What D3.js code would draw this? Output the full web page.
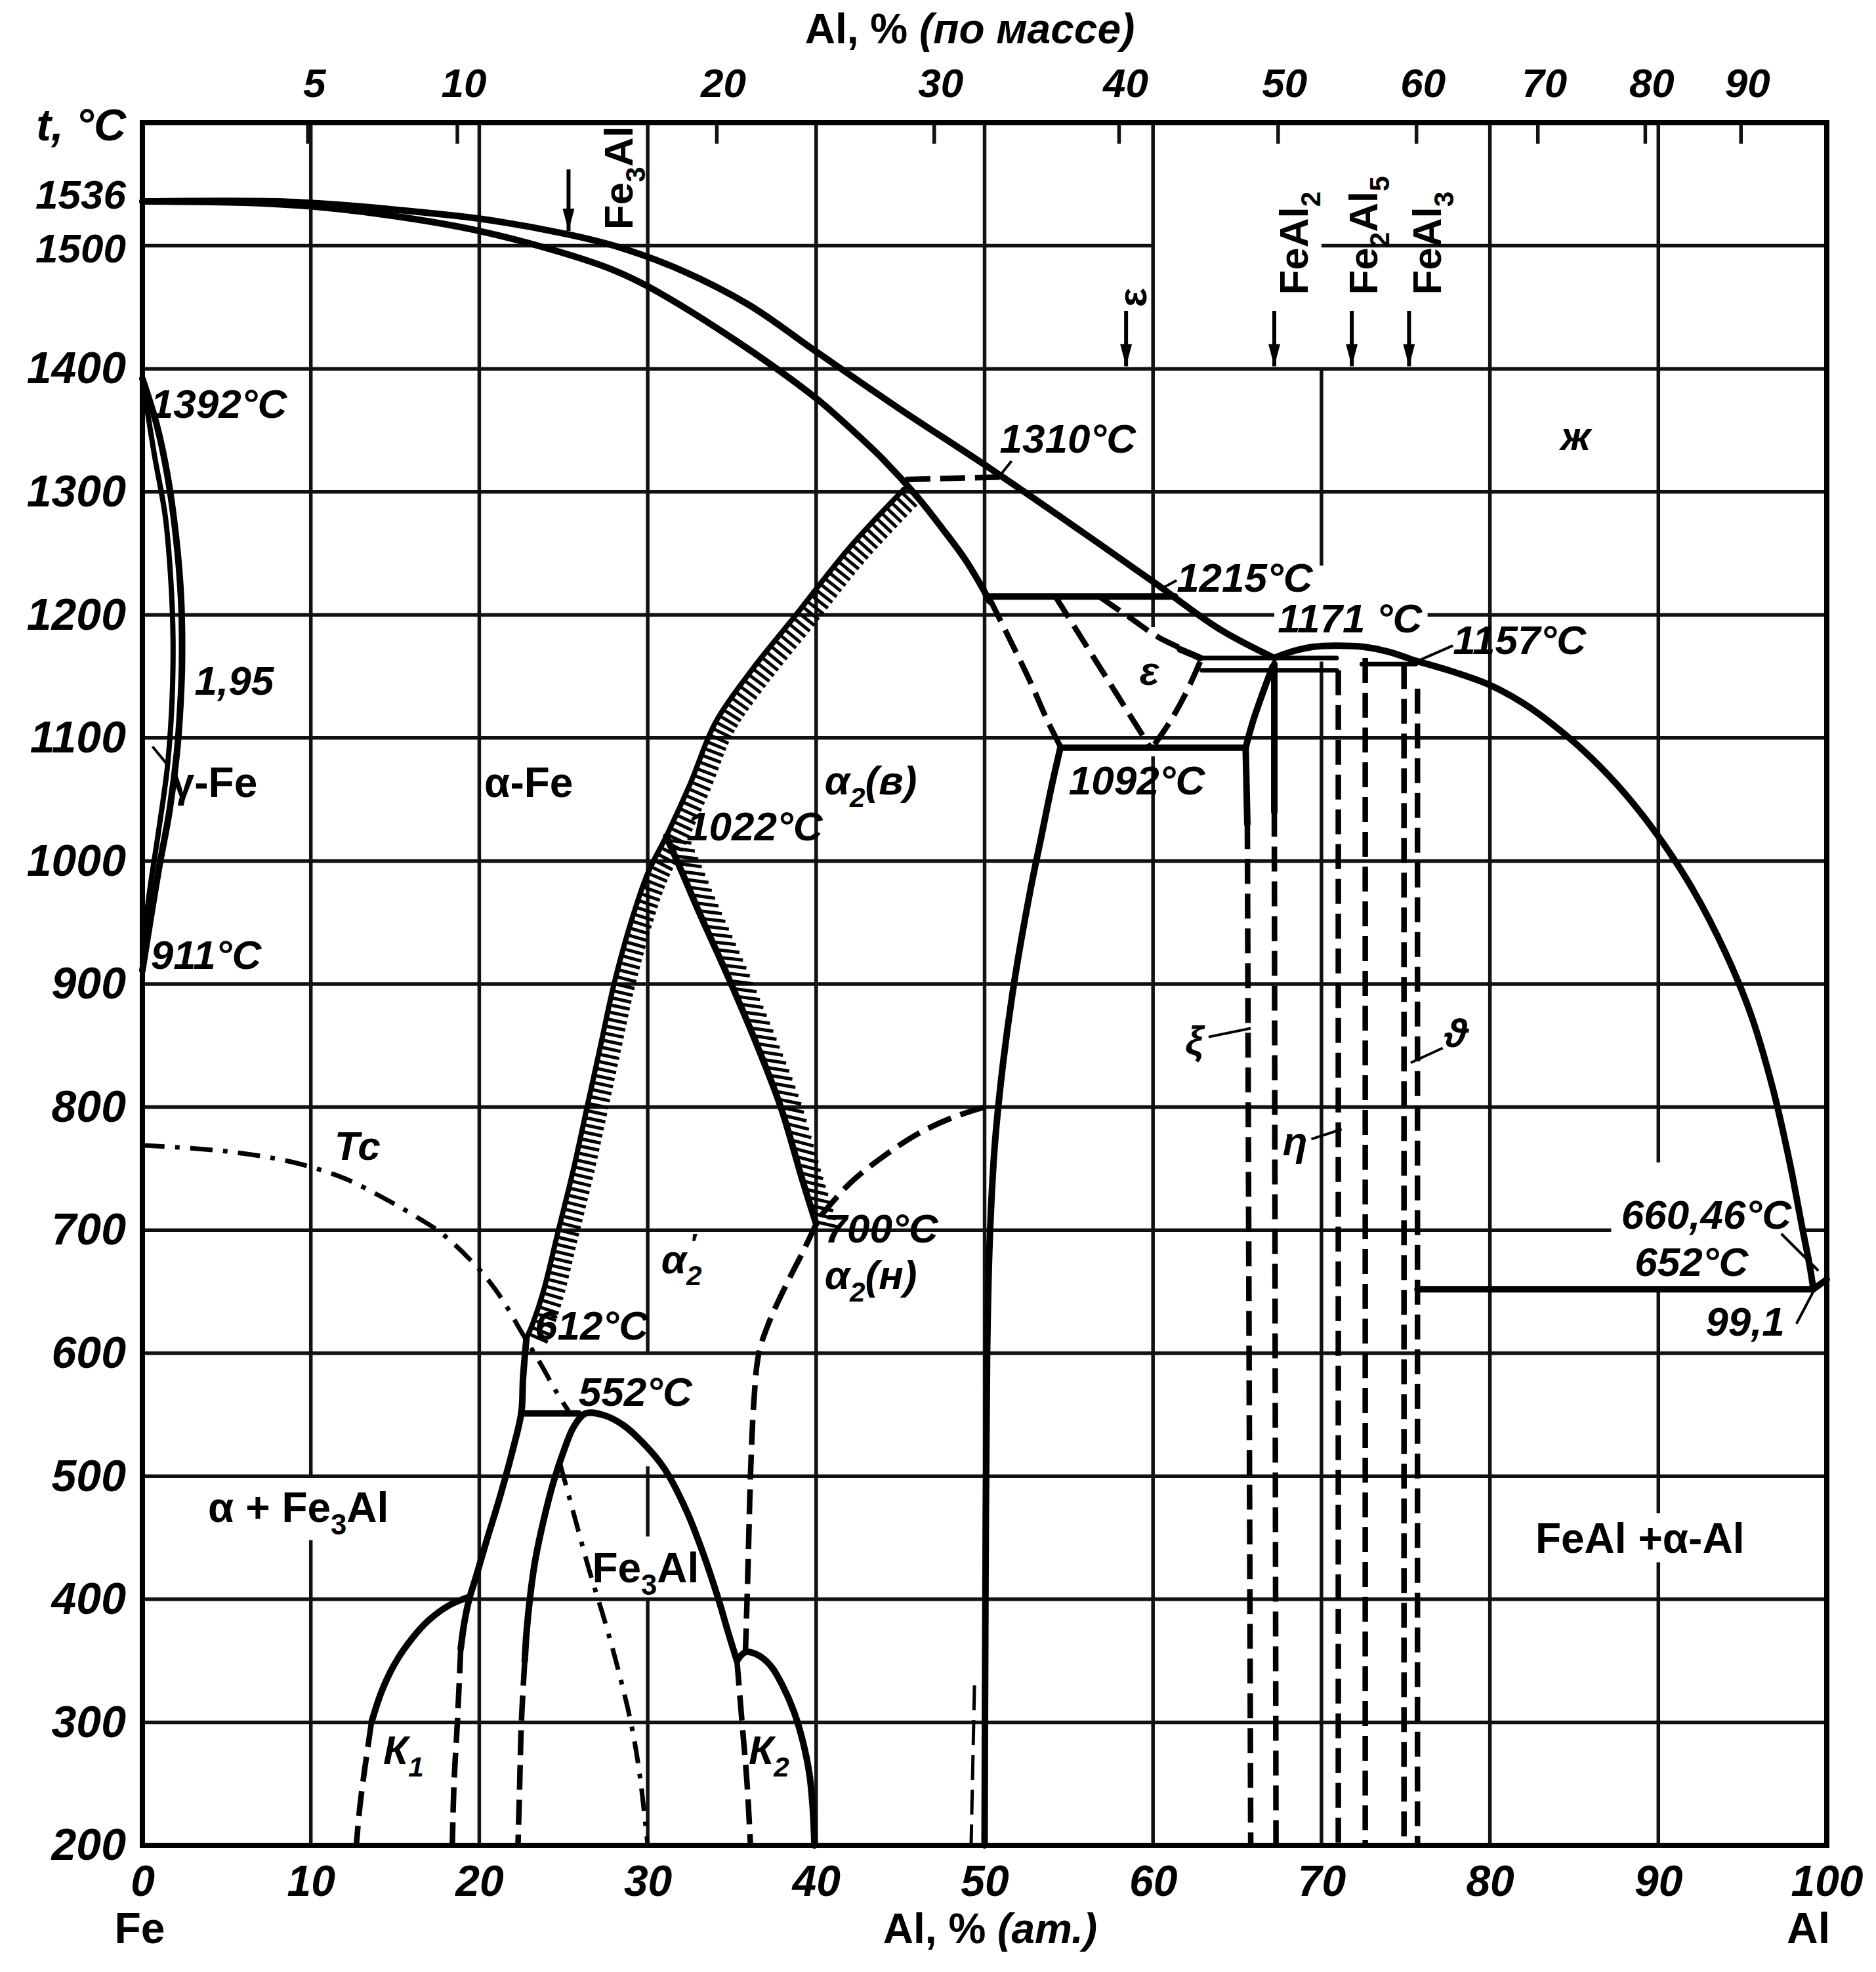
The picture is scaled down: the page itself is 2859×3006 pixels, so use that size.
<!DOCTYPE html>
<html>
<head>
<meta charset="utf-8">
<title>Fe-Al</title>
<script src="https://cdn.jsdelivr.net/npm/d3@7/dist/d3.min.js"></script>
<style>
  html, body { margin: 0; background: #fff; }
  svg { display: block; }
  .grid { stroke: #111; stroke-width: 5.5; }
  .frame { fill: none; stroke: #000; stroke-width: 8; }
  .solid { fill: none; stroke: #000; stroke-width: 10; stroke-linejoin: round; stroke-linecap: round; }
  .dashed { fill: none; stroke: #000; stroke-width: 8.5; stroke-dasharray: 38 15; }
  .dashdot { fill: none; stroke: #000; stroke-width: 7; stroke-dasharray: 34 16 7 16; }
  .thin { fill: none; stroke: #000; stroke-width: 4; }
  .hatch line { stroke: #000; stroke-width: 5; }
  text { fill: #000; font-family: "Liberation Sans", Arimo, "DejaVu Sans", sans-serif; font-weight: bold; }
  .num { font-style: italic; }
</style>
</head>
<body>
<svg id="chart" width="2859" height="3006"></svg>
<script>
// Fe-Al phase diagram. Every curve is a list of [at.% Al, t °C].

const tempTicks = [200, 300, 400, 500, 600, 700, 800, 900, 1000, 1100, 1200, 1300, 1400, 1500, 1536];
const atTicks = [0, 10, 20, 30, 40, 50, 60, 70, 80, 90, 100];
const massTicks = [5, 10, 20, 30, 40, 50, 60, 70, 80, 90];

// grid lines and the parts of them that are actually drawn
const gridTemps = [
  { t: 300, spans: [[0, 100]] },
  { t: 400, spans: [[0, 100]] },
  { t: 500, spans: [[0, 100]] },
  { t: 600, spans: [[0, 100]] },
  { t: 700, spans: [[0, 87.2], [98.6, 100]] },
  { t: 800, spans: [[0, 100]] },
  { t: 900, spans: [[0, 100]] },
  { t: 1000, spans: [[0, 100]] },
  { t: 1100, spans: [[0, 100]] },
  { t: 1200, spans: [[0, 67.2], [76.3, 100]] },
  { t: 1300, spans: [[0, 100]] },
  { t: 1400, spans: [[0, 100]] },
  { t: 1500, spans: [[0, 60], [70, 100]] }
];
const gridComps = [
  { c: 10, spans: [[200, 448], [500, 1600]] },
  { c: 20, spans: [[200, 1600]] },
  { c: 30, spans: [[200, 399], [451, 508], [600, 1600]] },
  { c: 40, spans: [[200, 1600]] },
  { c: 50, spans: [[200, 1600]] },
  { c: 60, spans: [[200, 1085], [1190, 1600]] },
  { c: 70, spans: [[200, 1162], [1240, 1400]] },
  { c: 80, spans: [[200, 1600]] },
  { c: 90, spans: [[200, 430], [470, 652], [755, 1600]] }
];

// liquidus / solidus, iron side
const liquidusFe = [[0, 1536], [8, 1536], [12, 1533], [16, 1528], [20, 1522], [25, 1510], [28, 1500], [32, 1480],
  [36, 1452], [40, 1414], [45, 1367], [50, 1322], [55, 1275], [60, 1227], [64, 1188], [67.2, 1165]];
const solidusFe = [[0, 1536], [6, 1535], [10, 1532], [15, 1524], [20, 1512], [25, 1494], [28, 1480], [30, 1467],
  [35, 1425], [40, 1376], [42, 1352], [44, 1326], [46, 1296], [47.5, 1270], [48.8, 1246], [49.7, 1226], [50.3, 1211]];

// gamma loop
const gammaOuter = [[0, 1392], [0.84, 1355], [1.48, 1314], [2.0, 1263], [2.3, 1212], [2.35, 1160], [2.25, 1125],
  [2.05, 1088], [1.6, 1040], [0.97, 993], [0.3, 937], [0, 911]];
const gammaInner = [[0, 1392], [0.7, 1331], [1.35, 1281], [1.68, 1230], [1.82, 1180], [1.75, 1127], [1.48, 1076],
  [0.97, 1025], [0.32, 964], [0, 911]];

// order-disorder lines (hatched)
const orderBand = [[45.2, 1302], [42, 1255], [38.8, 1200], [36, 1152], [34, 1112], [32.5, 1062], [31.1, 1020],
  [30, 990], [29, 950], [28, 900], [27.2, 850], [26.4, 800], [25.6, 750], [24.7, 700], [23.8, 650], [23.2, 625], [22.8, 612]];
const orderRight = [[31.1, 1020], [32, 992], [33, 960], [34.8, 905], [36.5, 850], [37.9, 800], [39.2, 740], [40, 705]];

// low temperature region
const alphaLow = [[22.8, 612], [22.6, 580], [22.5, 552], [22.0, 522], [21.2, 482], [20.4, 446], [19.8, 418],
  [19.4, 400], [19.1, 380], [18.9, 360]];
const alphaLowDash = [[18.9, 360], [18.7, 300], [18.5, 250], [18.4, 200]];
const tie552 = [[22.5, 551], [25.9, 551]];
const domeFe3Al = [[22.7, 350], [22.8, 372], [23, 400], [23.3, 430], [23.8, 463], [24.4, 495], [25, 520], [25.6, 540],
  [26.3, 551], [27.3, 550], [28.5, 542], [29.8, 526], [31, 506], [32.3, 472], [33.3, 437], [34.2, 400], [34.8, 372], [35.3, 350]];
const domeFe3AlDash = [[22.7, 350], [22.5, 300], [22.4, 250], [22.3, 200]];
const k1Solid = [[13.6, 300], [14.2, 325], [15, 348], [16, 368], [17, 383], [18.2, 395], [19.4, 402]];
const k1Dash = [[13.6, 300], [13.2, 262], [12.9, 230], [12.7, 200]];
const k2Solid = [[35.3, 350], [35.8, 357], [36.5, 355], [37.3, 346], [38, 330], [38.7, 308], [39.2, 285], [39.6, 258],
  [39.8, 230], [39.9, 200]];
const b2Dash700 = [[40, 705], [39.2, 682], [38.2, 655], [37.2, 625], [36.6, 600], [36.3, 560], [36.1, 500], [36, 450],
  [35.9, 400], [35.8, 357]];
const k2Dash = [[35.3, 350], [35.6, 300], [35.9, 250], [36.1, 200]];
const curieFe = [[0, 769], [5, 764], [9, 755], [12, 742], [14.2, 727], [16, 713], [17.8, 697], [20, 668], [21.3, 645],
  [22.6, 615], [23.7, 590], [24.6, 568], [25.3, 553]];
const curieFe3Al = [[24.8, 510], [25.6, 470], [26.5, 425], [27.5, 380], [28.3, 340], [29, 300], [29.5, 260], [30, 200]];
const b2Dash800 = [[40.3, 712], [42, 738], [44, 760], [46, 778], [48, 791], [50, 800]];

// FeAl / epsilon region
const feAlSide = [[54.5, 1092], [54, 1062], [53.4, 1022], [52.7, 975], [51.8, 905], [51.1, 836], [50.6, 768],
  [50.3, 690], [50.15, 600], [50.05, 400], [50, 200]];
const feAlTop = [[50.3, 1213], [51.5, 1180], [52.7, 1146], [53.7, 1115], [54.5, 1093]];
const tie1310 = [[45.3, 1310], [50.9, 1312]];
const tie1215 = [[50.3, 1215], [61.3, 1215]];
const tie1092 = [[54.5, 1092], [65.5, 1092]];
const epsLeft = [[54.2, 1215], [59.8, 1093]];
const epsArc = [[56.8, 1215], [58.6, 1198], [60.3, 1182], [61.8, 1172]];
const epsTop = [[61.6, 1172], [62.3, 1168], [62.8, 1165]];
const epsRight = [[62.8, 1162], [61.9, 1135], [61, 1113], [60, 1093]];
const tie1165 = [[62.8, 1165], [70.9, 1165]];
const tie1155 = [[62.9, 1155], [70.9, 1155]];
const tie1160 = [[72.4, 1160], [75.6, 1160]];
const domeFe2Al5 = [[67.2, 1165], [68.2, 1170], [69.5, 1174], [71, 1175], [72.5, 1174], [74, 1170], [75.5, 1163]];
const feAl2Arc = [[65.5, 1092], [65.9, 1112], [66.5, 1136], [67.1, 1158]];
const feAl2LeftSolid = [[65.5, 1092], [65.6, 1030]];
const feAl2LeftDash = [[65.6, 1030], [65.8, 200]];
const feAl2RightSolid = [[67.2, 1160], [67.2, 1040]];
const feAl2RightDash = [[67.2, 1040], [67.3, 200]];
const fe2Al5Left = [[71.0, 1155], [71.0, 200]];
const fe2Al5Right = [[72.6, 1165], [72.6, 200]];
const feAl3Left = [[74.9, 1160], [74.9, 200]];
const feAl3Right = [[75.7, 1140], [75.7, 200]];
const feAlBottomDash = [[49.4, 330], [49.2, 200]];

// aluminium side
const liquidusAl = [[75.5, 1163], [78, 1153], [80, 1143], [82, 1128], [84, 1108], [86, 1084], [88, 1055], [90, 1020],
  [92, 978], [94, 925], [95.5, 875], [96.8, 815], [97.8, 755], [98.5, 705], [99, 670], [99.2, 652]];
const tie652 = [[75.7, 652], [99.2, 652]];
const solidusAl = [[99.2, 652], [99.6, 656], [100, 660]];

// leader strokes for the labels
const leaders = [
  [[50.9, 1313], [51.6, 1325]],
  [[60.6, 1222], [61.4, 1228]],
  [[75.8, 1163], [77.8, 1175]],
  [[97.3, 697], [99.5, 667]],
  [[98.2, 624], [99.2, 650]],
  [[63.3, 857], [65.8, 864]],
  [[69.4, 774], [71.2, 782]],
  [[75.3, 836], [77.2, 848]],
  [[0.6, 1093], [1.5, 1078]]
];

// labels in the field ( _x subscript, ^x superscript )
const phaseLabels = [
  { text: "1392°C", at: 0.5, t: 1360 },
  { text: "1,95", at: 3.1, t: 1135 },
  { text: "γ-Fe", at: 1.7, t: 1052 },
  { text: "911°C", at: 0.5, t: 912 },
  { text: "α-Fe", at: 20.3, t: 1052 },
  { text: "α_2(в)", at: 40.5, t: 1054 },
  { text: "1022°C", at: 32.3, t: 1017 },
  { text: "1310°C", at: 50.9, t: 1332 },
  { text: "1215°C", at: 61.4, t: 1219 },
  { text: "1171 °C", at: 67.4, t: 1186 },
  { text: "1157°C", at: 77.8, t: 1168 },
  { text: "ε", at: 59.2, t: 1143 },
  { text: "1092°C", at: 55.0, t: 1054 },
  { text: "700°C", at: 40.5, t: 690 },
  { text: "α_2(н)", at: 40.5, t: 652 },
  { text: "α_2^′", at: 30.8, t: 665 },
  { text: "612°C", at: 23.3, t: 611 },
  { text: "552°C", at: 25.9, t: 557 },
  { text: "α + Fe_3Al", at: 3.9, t: 463 },
  { text: "Fe_3Al", at: 26.7, t: 414 },
  { text: "К_1", at: 14.3, t: 266 },
  { text: "К_2", at: 36.0, t: 266 },
  { text: "Tc", at: 11.4, t: 757 },
  { text: "ж", at: 84.2, t: 1334 },
  { text: "ξ", at: 61.9, t: 843 },
  { text: "η", at: 67.7, t: 761 },
  { text: "ϑ", at: 77.3, t: 849 },
  { text: "660,46°C", at: 87.8, t: 701 },
  { text: "652°C", at: 88.6, t: 663 },
  { text: "99,1", at: 92.8, t: 614 },
  { text: "FeAl +α-Al", at: 82.7, t: 438 }
];
const compoundLabels = [
  { text: "Fe_3Al", at: 29.1, t: 1513 },
  { text: "ε", at: 59.6, t: 1450 },
  { text: "FeAl_2", at: 69.2, t: 1460 },
  { text: "Fe_2Al_5", at: 73.3, t: 1460 },
  { text: "FeAl_3", at: 77.1, t: 1460 }
];
const compoundArrows = [
  { at: 25.3, from: 1562, to: 1512 },
  { at: 58.4, from: 1447, to: 1402 },
  { at: 67.2, from: 1447, to: 1402 },
  { at: 71.8, from: 1447, to: 1402 },
  { at: 75.2, from: 1447, to: 1402 }
];

const uprightLabels = new Set(["γ-Fe", "α-Fe", "α + Fe_3Al", "Fe_3Al", "FeAl +α-Al"]);

const W = 2859, H = 3006;
const x = d3.scaleLinear().domain([0, 100]).range([217, 2784]);
const y = d3.scaleLinear().domain([200, 1600]).range([2813, 187]);

// mass % -> atomic %
const M_FE = 55.85, M_AL = 26.98;
const massToAt = w => 100 * (w / M_AL) / (w / M_AL + (100 - w) / M_FE);

const svg = d3.select("#chart").attr("viewBox", [0, 0, W, H]);
svg.append("rect").attr("width", W).attr("height", H).attr("fill", "#fff");

const defs = svg.append("defs");
defs.append("marker")
  .attr("id", "head")
  .attr("markerUnits", "userSpaceOnUse")
  .attr("viewBox", "0 0 34 18")
  .attr("markerWidth", 34)
  .attr("markerHeight", 18)
  .attr("refX", 34)
  .attr("refY", 9)
  .attr("orient", "auto")
  .append("path")
  .attr("d", "M0,0 L34,9 L0,18 z")
  .attr("fill", "#000");

// ---------- grid
const hSegs = gridTemps.flatMap(g => g.spans.map(s => ({ t: g.t, a: s[0], b: s[1] })));
const vSegs = gridComps.flatMap(g => g.spans.map(s => ({ c: g.c, a: s[0], b: s[1] })));

const grid = svg.append("g").attr("class", "gridlines");
grid.selectAll("line.h").data(hSegs).join("line")
  .attr("class", "grid h")
  .attr("x1", d => x(d.a)).attr("x2", d => x(d.b))
  .attr("y1", d => y(d.t)).attr("y2", d => y(d.t));
grid.selectAll("line.v").data(vSegs).join("line")
  .attr("class", "grid v")
  .attr("x1", d => x(d.c)).attr("x2", d => x(d.c))
  .attr("y1", d => y(d.a)).attr("y2", d => y(d.b));

// mass % ticks on top
grid.selectAll("line.m").data(massTicks).join("line")
  .attr("class", "grid m")
  .attr("x1", d => x(massToAt(d))).attr("x2", d => x(massToAt(d)))
  .attr("y1", y(1600)).attr("y2", y(1600) + 32);

svg.append("rect")
  .attr("class", "frame")
  .attr("x", x(0)).attr("y", y(1600))
  .attr("width", x(100) - x(0)).attr("height", y(200) - y(1600));

// ---------- curves
const straight = d3.line().x(d => x(d[0])).y(d => y(d[1]));
const smooth = d3.line().x(d => x(d[0])).y(d => y(d[1])).curve(d3.curveCatmullRom.alpha(0.5));
const curves = svg.append("g").attr("class", "curves");

function draw(pts, cls, isCurve = true) {
  return curves.append("path").attr("class", cls).attr("d", (isCurve ? smooth : straight)(pts));
}

function hatch(path, step, len, tilt) {
  const node = path.node();
  const total = node.getTotalLength();
  const g = curves.append("g").attr("class", "hatch");
  for (let s = step / 2; s < total; s += step) {
    const p = node.getPointAtLength(s);
    const a = node.getPointAtLength(Math.max(0, s - 2));
    const b = node.getPointAtLength(Math.min(total, s + 2));
    let tx = b.x - a.x, ty = b.y - a.y;
    const n = Math.hypot(tx, ty) || 1;
    tx /= n; ty /= n;
    let nx = ty, ny = -tx;
    if (nx < 0) { nx = -nx; ny = -ny; }
    let dx = nx + tilt * tx, dy = ny + tilt * ty;
    const m = Math.hypot(dx, dy);
    g.append("line")
      .attr("x1", p.x).attr("y1", p.y)
      .attr("x2", p.x + dx / m * len).attr("y2", p.y + dy / m * len);
  }
}

draw(liquidusFe, "solid");
draw(solidusFe, "solid");
draw(gammaOuter, "solid");
draw(gammaInner, "solid").style("stroke-width", 8);

const band = draw(orderBand, "solid").style("stroke-width", 8);
hatch(band, 11, 32, 0);
const bandRight = draw(orderRight, "solid");
hatch(bandRight, 13, 36, 0.6);

draw(alphaLow, "solid");
draw(alphaLowDash, "dashed");
draw(tie552, "solid", false);
draw(domeFe3Al, "solid");
draw(domeFe3AlDash, "dashed");
draw(k1Solid, "solid");
draw(k1Dash, "dashed");
draw(k2Solid, "solid");
draw(b2Dash700, "dashed");
draw(k2Dash, "dashed");
draw(curieFe, "dashdot");
draw(curieFe3Al, "dashdot");
draw(b2Dash800, "dashed");

draw(feAlSide, "solid");
draw(feAlTop, "dashed");
draw(tie1310, "dashed", false);
draw(tie1215, "solid", false);
draw(tie1092, "solid", false);
draw(epsLeft, "dashed", false);
draw(epsArc, "dashed");
draw(epsTop, "solid");
draw(epsRight, "dashed");
draw(tie1165, "solid", false).style("stroke-width", 7);
draw(tie1155, "solid", false).style("stroke-width", 7);
draw(tie1160, "solid", false).style("stroke-width", 7);
draw(domeFe2Al5, "solid");
draw(feAl2Arc, "solid");
draw(feAl2LeftSolid, "solid", false);
draw(feAl2LeftDash, "dashed", false);
draw(feAl2RightSolid, "solid", false);
draw(feAl2RightDash, "dashed", false);
draw(fe2Al5Left, "dashed", false);
draw(fe2Al5Right, "dashed", false);
draw(feAl3Left, "dashed", false);
draw(feAl3Right, "dashed", false);
draw(feAlBottomDash, "dashed", false).style("stroke-width", 5);

draw(liquidusAl, "solid");
draw(tie652, "solid", false);
draw(solidusAl, "solid", false);

leaders.forEach(l => draw(l, "thin", false));

// arrows to the compounds
svg.append("g").selectAll("line").data(compoundArrows).join("line")
  .attr("class", "thin")
  .style("stroke-width", 6)
  .attr("x1", d => x(d.at)).attr("x2", d => x(d.at))
  .attr("y1", d => y(d.from)).attr("y2", d => y(d.to))
  .attr("marker-end", "url(#head)");

// ---------- text helpers
function rich(sel, str, size) {
  const tokens = [];
  for (let i = 0; i < str.length; i++) {
    const c = str[i];
    if ((c === "_" || c === "^") && i + 1 < str.length) {
      tokens.push([str[i + 1], c === "_" ? "sub" : "sup"]);
      i++;
    } else if (tokens.length && !tokens[tokens.length - 1][1]) {
      tokens[tokens.length - 1][0] += c;
    } else {
      tokens.push([c, ""]);
    }
  }
  let level = 0, prev = "";
  tokens.forEach(([s, kind]) => {
    const target = kind === "sub" ? size * 0.3 : kind === "sup" ? -size * 0.5 : 0;
    const ts = sel.append("tspan")
      .attr("dy", target - level)
      .attr("font-size", kind ? size * 0.68 : size)
      .text(s);
    if (kind === "sup" && prev === "sub") ts.attr("dx", -size * 0.3);
    level = target;
    prev = kind;
  });
  return sel;
}

// ---------- axes
const yAxis = d3.axisLeft(y).tickValues(tempTicks).tickSize(0).tickPadding(25).tickFormat(d3.format("d"));
svg.append("g")
  .attr("transform", `translate(${x(0)},0)`)
  .call(yAxis)
  .call(g => g.select(".domain").remove())
  .attr("font-size", null).attr("font-family", null)
  .selectAll("text")
  .attr("class", "num")
  .attr("font-size", d => (d === 1536 || d === 1500) ? 62 : 68)
  // 1536 and 1500 sit very close: pull them apart a little
  .attr("y", d => d === 1536 ? -9 : d === 1500 ? 5 : 0);

const xAxis = d3.axisBottom(x).tickValues(atTicks).tickSize(0).tickPadding(30).tickFormat(d3.format("d"));
svg.append("g")
  .attr("transform", `translate(0,${y(200)})`)
  .call(xAxis)
  .call(g => g.select(".domain").remove())
  .attr("font-size", null).attr("font-family", null)
  .selectAll("text")
  .attr("class", "num")
  .attr("font-size", 66);

svg.append("g").selectAll("text").data(massTicks).join("text")
  .attr("class", "num")
  .attr("x", d => x(massToAt(d)) + 10)
  .attr("y", 148)
  .attr("text-anchor", "middle")
  .attr("font-size", 62)
  .text(d => d);

const topTitle = svg.append("text")
  .attr("x", 1478).attr("y", 66)
  .attr("text-anchor", "middle")
  .attr("font-size", 64);
topTitle.append("tspan").text("Al, % ");
topTitle.append("tspan").attr("class", "num").text("(по массе)");

svg.append("text")
  .attr("class", "num")
  .attr("x", 192).attr("y", 214)
  .attr("text-anchor", "end")
  .attr("font-size", 68)
  .text("t, °C");

const bottomTitle = svg.append("text")
  .attr("x", 1509).attr("y", 2962)
  .attr("text-anchor", "middle")
  .attr("font-size", 64);
bottomTitle.append("tspan").text("Al, % ");
bottomTitle.append("tspan").attr("class", "num").text("(ат.)");

svg.append("text").attr("x", x(0) - 4).attr("y", 2962).attr("text-anchor", "middle")
  .attr("font-size", 66).text("Fe");
svg.append("text").attr("x", x(100) - 28).attr("y", 2962).attr("text-anchor", "middle")
  .attr("font-size", 66).text("Al");

// ---------- field labels
const labelG = svg.append("g").attr("class", "labels");
phaseLabels.forEach(d => {
  const upright = uprightLabels.has(d.text);
  const t = labelG.append("text")
    .attr("x", x(d.at)).attr("y", y(d.t))
    .attr("class", upright ? null : "num");
  rich(t, d.text, upright ? 64 : 62);
});

compoundLabels.forEach(d => {
  const t = labelG.append("text")
    .attr("transform", `translate(${x(d.at)},${y(d.t)}) rotate(-90)`);
  rich(t, d.text, 62);
});
</script>
</body>
</html>
